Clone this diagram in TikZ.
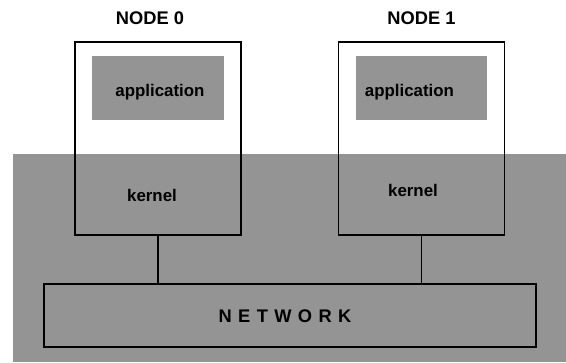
\documentclass[tikz,border=0pt]{standalone}
\usepackage{fontspec}
\setmainfont{Liberation Sans}
\usepackage{tikz}
\usetikzlibrary{positioning,calc}

\tikzset{
    screen/.style={fill=black!42},
    hostbox/.style={draw, line width=1.3pt, minimum width=4.15cm, minimum height=4.82cm, inner sep=0pt},
    appbox/.style={screen, minimum width=3.28cm, minimum height=1.6cm, inner sep=0pt},
    netbox/.style={draw, line width=1.3pt, minimum width=12.3cm, minimum height=1.58cm, inner sep=0pt},
    title/.style={font=\fontsize{13}{15}\selectfont\bfseries},
    word/.style={font=\fontsize{12}{14}\selectfont\bfseries, inner sep=0pt}
}

\begin{document}
\begin{tikzpicture}[x=0.025cm, y=-0.025cm]
    \useasboundingbox (0,0) rectangle (566,362);

    % Shaded lower band
    \fill[screen] (13,154) rectangle (566,362);

    % Node 0
    \node[hostbox] (node0) at (158,138.5) {};
    \node[title, above=0.3cm of node0.north, xshift=-0.2cm] (title0) {NODE 0};
    \node[appbox, below=0.375cm of node0.north] (app0) {};
    \node[word] (apptxt0) at ($(app0)+(2,4)$) {application};
    \node[word] (kern0) at (152,195) {kernel};

    % Node 1
    \node[hostbox] (node1) at (421.5,138.5) {};
    \node[title, above=0.3cm of node1.north] (title1) {NODE 1};
    \node[appbox, below=0.375cm of node1.north] (app1) {};
    \node[word] (apptxt1) at ($(app1)+(-12,4)$) {application};
    \node[word] (kern1) at (413,190) {kernel};

    % Network
    \node[netbox] (net) at (290,315.5) {};
    \node[title, font=\fontsize{13}{15}\selectfont\bfseries\addfontfeatures{LetterSpace=35}] (nettxt) at (285,316.5) {NETWORK};

    % Links down to the network
    \draw[line width=1.3pt] (node0.south) -- (node0.south |- net.north);
    \draw[line width=1.3pt] (node1.south) -- (node1.south |- net.north);
\end{tikzpicture}
\end{document}
